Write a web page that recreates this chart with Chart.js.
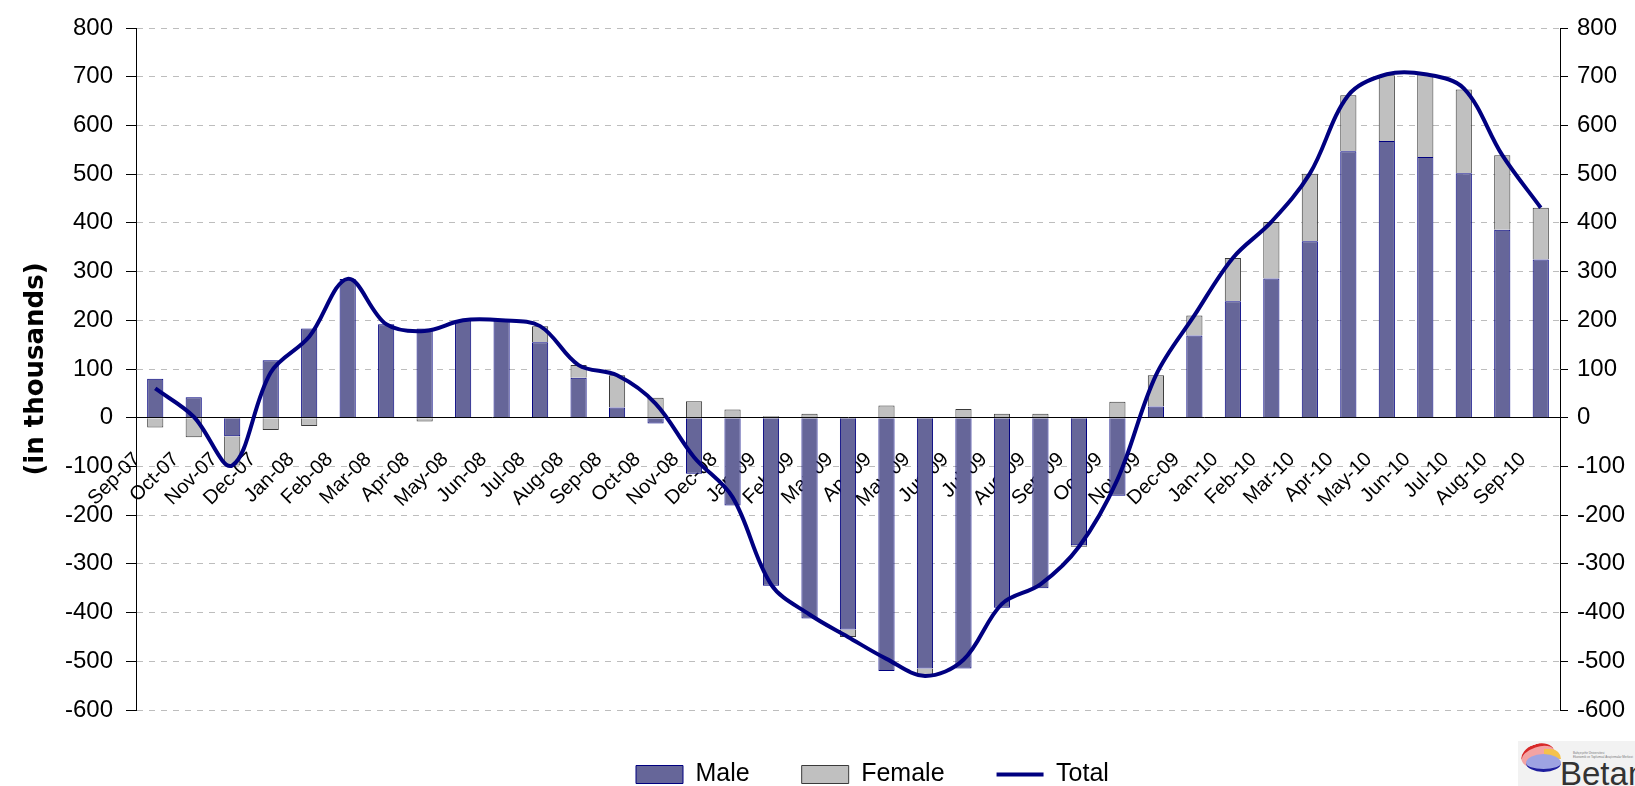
<!DOCTYPE html>
<html>
<head>
<meta charset="utf-8">
<script src="https://cdn.jsdelivr.net/npm/chart.js@4.4.0/dist/chart.umd.min.js"></script>
<style>
html,body{margin:0;padding:0;background:#fff;overflow:hidden;}
#wrap{position:relative;width:1635px;height:786px;}
#c{position:absolute;left:0;top:0;}
#logo{position:absolute;left:1518px;top:741px;width:117px;height:45px;background:#f2f2f2;overflow:hidden;}
#logo .red{position:absolute;left:3px;top:3px;width:34px;height:20px;border-radius:50%;background:#f3a3a3;border-top:3px solid #d82828;transform:rotate(-18deg);}
#logo .yel{position:absolute;left:26px;top:8px;width:17px;height:10px;background:#f4c24c;border-radius:0 12px 0 0;}
#logo .blue{position:absolute;left:8px;top:13px;width:35px;height:15px;border-radius:50%;background:#9ea3e2;border-bottom:3px solid #1e1e9e;}
#logo .tiny{position:absolute;left:55px;top:10px;font:3px 'Liberation Sans',Arial,sans-serif;color:#777;line-height:4px;white-space:nowrap;}
#logo .betam{position:absolute;left:42px;top:16px;font:33px 'Liberation Sans',Arial,sans-serif;color:#333;line-height:33px;white-space:nowrap;}
</style>
</head>
<body>
<div id="wrap">
  <canvas id="c" width="1635" height="786"></canvas>
  <div id="logo">
    <div class="red"></div>
    <div class="yel"></div>
    <div class="blue"></div>
    <div class="tiny">Bahçeşehir Üniversitesi<br>Ekonomik ve Toplumsal Araştırmalar Merkezi</div>
    <div class="betam">Betam</div>
  </div>
</div>
<script>
const categories = ['Sep-07','Oct-07','Nov-07','Dec-07','Jan-08','Feb-08','Mar-08','Apr-08','May-08','Jun-08','Jul-08','Aug-08','Sep-08','Oct-08','Nov-08','Dec-08','Jan-09','Feb-09','Mar-09','Apr-09','May-09','Jun-09','Jul-09','Aug-09','Sep-09','Oct-09','Nov-09','Dec-09','Jan-10','Feb-10','Mar-10','Apr-10','May-10','Jun-10','Jul-10','Aug-10','Sep-10'];
const male   = [80,42,-38,118,183,285,192,183,200,200,155,82,21,-12,-115,-180,-345,-412,-435,-520,-515,-515,-390,-350,-262,-160,23,169,239,286,362,547,568,535,502,386,325];
const female = [-20,-40,-60,-25,-17,0,0,-8,0,0,33,26,66,41,34,17,3,8,-15,25,-15,18,8,8,-3,33,64,41,89,116,139,115,135,170,172,153,106];
const total  = [60,2,-98,93,166,285,192,178,200,200,188,108,87,29,-81,-163,-342,-404,-450,-495,-530,-497,-382,-342,-265,-127,87,210,328,402,501,662,705,705,676,539,431];
const yMin = -600, yMax = 800, yStep = 100;
const yTitle = '(in thousands)';

const FONT = "'Liberation Sans', Arial, sans-serif";
const LEGEND_LEFT = 636;

const legendShift = {
  id: 'legendShift',
  afterLayout(chart) {
    const lg = chart.legend;
    if (!lg || !lg.lineWidths || !lg.lineWidths.length) return;
    const pad = lg.options.labels.padding;
    const start = (lg.left + pad + lg.right - lg.lineWidths[0]) / 2;
    const d = LEGEND_LEFT - start;
    lg.left += d; lg.right += d;
  }
};

new Chart(document.getElementById('c'), {
  data: {
    labels: categories,
    datasets: [
      {type:'bar', label:'Male', data: male, backgroundColor:'#666699', borderColor:'#000080', borderWidth:1,
       stack:'s', order:1, pointStyle:'rect', barPercentage:0.42, categoryPercentage:1},
      {type:'bar', label:'Female', data: female, backgroundColor:'#c0c0c0', borderColor:'#3a3a3a', borderWidth:1,
       stack:'s', order:1, pointStyle:'rect', barPercentage:0.42, categoryPercentage:1},
      {type:'line', label:'Total', data: total, borderColor:'#000080', backgroundColor:'#000080', borderWidth:4,
       tension:0.35, pointRadius:0, pointHoverRadius:0, pointStyle:'line', pointBorderWidth:4, pointBorderColor:'#000080',
       order:0, fill:false}
    ]
  },
  options: {
    responsive: false,
    animation: false,
    events: [],
    devicePixelRatio: 1,
    layout: {padding: {top: 28, bottom: -11, left: 0, right: 0}},
    plugins: {
      tooltip: {enabled: false},
      legend: {
        position: 'bottom',
        labels: {
          usePointStyle: true, pointStyleWidth: 47, boxHeight: 18, padding: 52,
          color: '#000', font: {family: FONT, size: 25},
          sort: (a, b) => a.datasetIndex - b.datasetIndex
        }
      }
    },
    scales: {
      x: {
        type: 'category',
        position: {y: 0},
        offset: true,
        grid: {display: false},
        border: {display: true, color: '#000', width: 1},
        ticks: {autoSkip: false, maxRotation: 45, minRotation: 45, padding: 22, labelOffset: -18,
                color: '#000', font: {family: FONT, size: 20}}
      },
      y: {
        position: 'left', min: yMin, max: yMax,
        ticks: {stepSize: yStep, color: '#000', padding: 13, font: {family: FONT, size: 24}},
        grid: {
          color: ctx => (ctx.tick && ctx.tick.value === 0) ? 'rgba(0,0,0,0)' : '#bdbdbd',
          tickColor: '#000', tickLength: 10, tickBorderDash: [], lineWidth: 1
        },
        border: {display: true, color: '#000', width: 1, dash: [6, 6]},
        title: {display: true, text: yTitle, color: '#000',
                font: {family: "'DejaVu Sans', sans-serif", size: 26, weight: 'bold'},
                padding: {top: 21, bottom: 0}},
        afterFit: s => { s.width = 136; }
      },
      y2: {
        position: 'right', min: yMin, max: yMax,
        ticks: {stepSize: yStep, color: '#000', padding: 9, font: {family: FONT, size: 24}},
        grid: {drawOnChartArea: false, tickColor: '#000', tickLength: 8, tickBorderDash: []},
        border: {display: true, color: '#000', width: 1},
        afterFit: s => { s.width = 75; }
      }
    }
  },
  plugins: [legendShift]
});
</script>
</body>
</html>
